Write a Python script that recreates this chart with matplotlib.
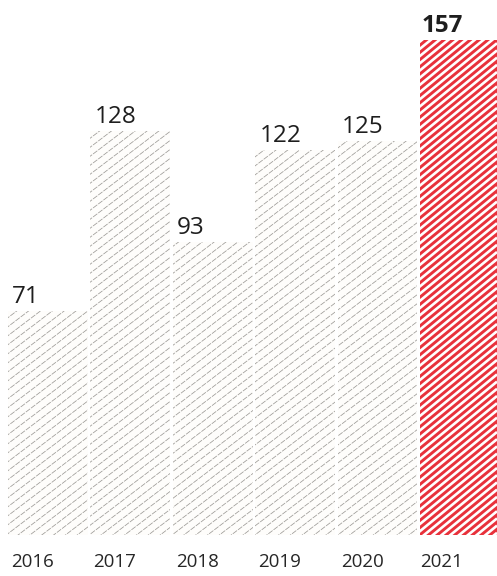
import matplotlib.pyplot as plt
import numpy as np
from matplotlib.collections import LineCollection

plt.rcParams['font.family'] = ['Open Sans', 'DejaVu Sans']

years = ['2016', '2017', '2018', '2019', '2020', '2021']
values = [71, 128, 93, 122, 125, 157]
highlight = '2021'

W, H = 497, 576
fig = plt.figure(figsize=(W / 100, H / 100), dpi=100)
fig.patch.set_facecolor('white')
ax = fig.add_axes([8 / W, 41 / H, 1 - 8 / W, 495 / H])

x = np.arange(len(years))
bars = ax.bar(x, values, width=0.965, align='edge', linewidth=0)
ax.set_xlim(0, 5.93)
ax.set_ylim(0, 157)
ax.axis('off')


def stripes(slope, step, color, lw, dashes=None):
    # diagonal lines across the whole figure, in pixel units
    segs = []
    for c in np.arange(-slope * W, H, step):
        segs.append([(0, c / H), (1, (c + slope * W) / H)])
    lc = LineCollection(segs, colors=color, linewidths=lw,
                        transform=fig.transFigure)
    if dashes:
        lc.set_linestyle((0, dashes))
    return lc


for yr, b in zip(years, bars):
    if yr == highlight:
        b.set_facecolor('#e8313b')
        lc = stripes(0.82, 7.2, 'white', 1.9)
    else:
        b.set_facecolor('#fefdfb')
        lc = stripes(0.76, 9.0, '#9c9a96', 0.55, dashes=(7, 1.5))
    ax.add_collection(lc)
    lc.set_clip_path(b)

for i, (yr, v) in enumerate(zip(years, values)):
    bold = yr == highlight
    ax.annotate(str(v), (i, v), xytext=(3 if not bold else 1, 1.5),
                textcoords='offset points', ha='left', va='bottom',
                fontsize=17.5, color='#1e1e1e',
                fontweight='bold' if bold else 'normal')
    ax.annotate(yr, (i, 0), xytext=(2 if i < 5 else 0, -13),
                textcoords='offset points', ha='left', va='top',
                fontsize=13.5, color='#262626')

fig.savefig('out.png', dpi=100, facecolor='white')
